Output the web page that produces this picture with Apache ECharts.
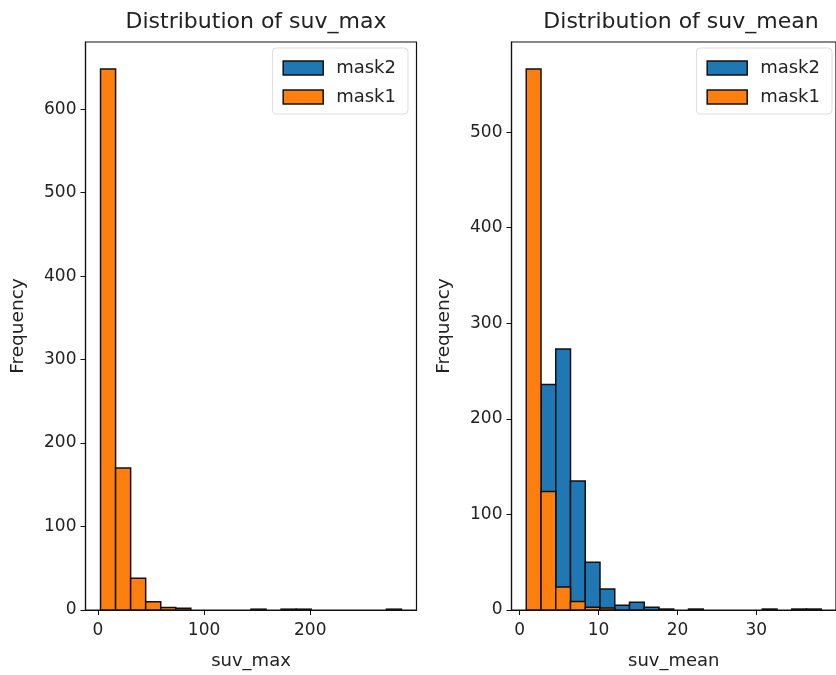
<!DOCTYPE html>
<html>
<head>
<meta charset="utf-8">
<script src="https://cdn.jsdelivr.net/npm/echarts@6/dist/echarts.min.js"></script>
<style>html,body{margin:0;padding:0;background:#fff;}#chart{width:836px;height:675px;}</style>
</head>
<body>
<div id="chart"></div>
<script>
// ---- data ----
const seriesNames = ['mask2', 'mask1'];
const titles = ['Distribution of suv_max', 'Distribution of suv_mean'];
const xNames = ['suv_max', 'suv_mean'];

// histogram bin edges (20 bins each)
const suvMaxEdges = [2.5, 16.67, 30.84, 45.01, 59.18, 73.35, 87.52, 101.69, 115.86, 130.03, 144.2,
  158.37, 172.54, 186.71, 200.88, 215.05, 229.22, 243.39, 257.56, 271.73, 285.9];
const suvMeanEdges = [0.83, 2.70, 4.57, 6.44, 8.31, 10.18, 12.05, 13.92, 15.79, 17.66, 19.53,
  21.40, 23.27, 25.14, 27.01, 28.88, 30.75, 32.62, 34.49, 36.36, 38.23];

// counts per bin (mask2 bars hidden behind mask1 are not readable)
const suvMaxMask2 = [0, 0, 0, 0, 0, 0, 0, 0, 0, 0, 0, 0, 0, 0, 0, 0, 0, 0, 0, 0];
const suvMaxMask1 = [648, 170, 38, 10, 3, 2, 0, 0, 0, 0, 1, 0, 1, 1, 0, 0, 0, 0, 0, 1];
const suvMeanMask2 = [0, 236, 273, 135, 50, 22, 5, 8, 3, 1, 0, 1, 0, 0, 0, 0, 1, 0, 1, 1];
const suvMeanMask1 = [566, 124, 24, 9, 3, 2, 0, 0, 0, 0, 0, 0, 0, 0, 0, 0, 0, 0, 0, 0];

// axis ranges and tick labels
const xRanges = [[-11.67, 300.07], [-1.04, 40.10]];
const yMax = [680.4, 594.3];
const xTicks = [[0, 100, 200], [0, 10, 20, 30]];
const yTicks = [[0, 100, 200, 300, 400, 500, 600], [0, 100, 200, 300, 400, 500]];

const colors = { mask2: '#1f77b4', mask1: '#ff7f0e' };

// ---- build chart ----
function binData(edges, counts) {
  return counts.map((c, i) => [edges[i], edges[i + 1], c]);
}
function renderBar(color) {
  return function (params, api) {
    const c = api.value(2);
    if (!c) return null;
    const p0 = api.coord([api.value(0), 0]);
    const p1 = api.coord([api.value(1), c]);
    return {
      type: 'rect',
      shape: { x: p0[0], y: p1[1], width: p1[0] - p0[0], height: p0[1] - p1[1] },
      style: { fill: color, stroke: '#111', lineWidth: 1.5 }
    };
  };
}

const FONT = 'DejaVu Sans';
const grids = [
  { left: 85.5, right: 419.5, top: 42, bottom: 65 },
  { left: 511.5, right: -6, top: 42, bottom: 65 }
];

const option = {
  animation: false,
  backgroundColor: '#fff',
  textStyle: { fontFamily: FONT },
  title: titles.map((t, i) => ({
    text: t,
    left: i === 0 ? 251 : 676,
    top: 6,
    textAlign: 'center',
    textStyle: { fontFamily: FONT, fontSize: 22, fontWeight: 'normal', color: '#222' }
  })),
  legend: [
    { right: 428, top: 48 },
    { right: 4, top: 48 }
  ].map(p => Object.assign({
    orient: 'vertical',
    data: seriesNames,
    icon: 'rect',
    itemWidth: 40,
    itemHeight: 14,
    itemGap: 11,
    padding: [11, 12, 8, 10],
    backgroundColor: '#fff',
    borderColor: '#ddd',
    borderWidth: 1,
    borderRadius: 4,
    itemStyle: { borderColor: '#111', borderWidth: 1.5 },
    textStyle: { fontFamily: FONT, fontSize: 18, color: '#222', padding: [0, 0, 0, 8] }
  }, p)),
  grid: grids.map(g => Object.assign({ show: true, borderColor: '#111', borderWidth: 1.2, backgroundColor: 'transparent' }, g)),
  xAxis: [0, 1].map(i => ({
    type: 'value',
    gridIndex: i,
    min: xRanges[i][0],
    max: xRanges[i][1],
    name: xNames[i],
    nameLocation: 'middle',
    nameGap: 42,
    nameTextStyle: { fontFamily: FONT, fontSize: 18, color: '#222' },
    axisLine: { show: true, onZero: false, lineStyle: { color: '#111', width: 1.2 } },
    axisTick: { show: true, length: 5, customValues: xTicks[i], lineStyle: { color: '#111' } },
    axisLabel: { customValues: xTicks[i], margin: 12, fontFamily: FONT, fontSize: 17, color: '#222' },
    splitLine: { show: false }
  })),
  yAxis: [0, 1].map(i => ({
    type: 'value',
    gridIndex: i,
    min: 0,
    max: yMax[i],
    name: 'Frequency',
    nameLocation: 'middle',
    nameGap: 58,
    nameTextStyle: { fontFamily: FONT, fontSize: 18.5, color: '#222' },
    axisLine: { show: true, onZero: false, lineStyle: { color: '#111', width: 1.2 } },
    axisTick: { show: true, length: 5, customValues: yTicks[i], lineStyle: { color: '#111' } },
    axisLabel: { customValues: yTicks[i], margin: 9, fontFamily: FONT, fontSize: 17, color: '#222' },
    splitLine: { show: false }
  })),
  series: [
    { name: 'mask2', idx: 0, edges: suvMaxEdges, counts: suvMaxMask2 },
    { name: 'mask1', idx: 0, edges: suvMaxEdges, counts: suvMaxMask1 },
    { name: 'mask2', idx: 1, edges: suvMeanEdges, counts: suvMeanMask2 },
    { name: 'mask1', idx: 1, edges: suvMeanEdges, counts: suvMeanMask1 }
  ].map(s => ({
    type: 'custom',
    name: s.name,
    xAxisIndex: s.idx,
    yAxisIndex: s.idx,
    itemStyle: { color: colors[s.name], borderColor: '#111', borderWidth: 1.5 },
    encode: { x: [0, 1], y: 2 },
    clip: true,
    renderItem: renderBar(colors[s.name]),
    data: binData(s.edges, s.counts)
  }))
};

const chart = echarts.init(document.getElementById('chart'), null, { renderer: 'canvas' });
chart.setOption(option);
</script>
</body>
</html>
